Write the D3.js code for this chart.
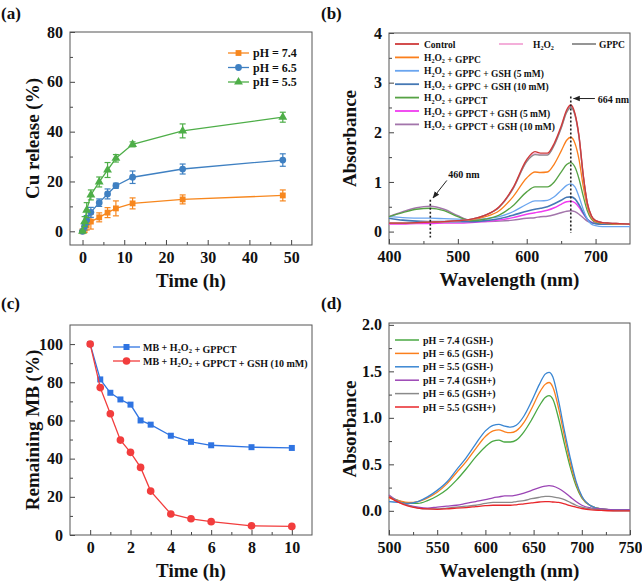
<!DOCTYPE html>
<meta charset="utf-8">
<title>Cu release / MB degradation</title>
<style>
body { margin: 0; background: #fff; }
svg text { font-family: "Liberation Serif", "Times New Roman", serif; font-weight: bold; fill: #111; }
</style>
<body>
<script src="https://d3js.org/d3.v7.min.js"></script>
<script>

// ---------- (a) Cu release ----------
var relTime = [0, 0.5, 1, 2, 4, 6, 8, 12, 24, 48];
var cu74 = [0, 1, 2.5, 3.9, 5.6, 7.5, 9.2, 11.2, 12.8, 14.4];
var cu74Err = [0.3, 1.5, 2, 3, 1.8, 2, 3, 2.2, 1.8, 2.2];
var cu65 = [0, 2, 4.5, 7.6, 11.5, 15, 18.3, 21.7, 25, 28.6];
var cu65Err = [0.3, 1.5, 1.8, 2, 1.5, 2, 1, 2.5, 2, 2.5];
var cu55 = [0, 3.9, 8.5, 14.6, 19.8, 24.6, 29.3, 34.9, 40.3, 45.8];
var cu55Err = [0.3, 2, 3, 2, 2, 3, 1.5, 1, 2.8, 2];
var phLabels = ["pH = 7.4", "pH = 6.5", "pH = 5.5"];

// ---------- (b) MB spectra with H2O2 / GSH ----------
var wlB = [400, 420, 440, 460, 480, 500, 520, 540, 560, 580, 600, 612, 620, 630, 640, 650, 658, 664, 670, 676, 682, 688, 694, 700, 710, 720, 735, 750];
var bControl = [0.17, 0.17, 0.18, 0.19, 0.2, 0.22, 0.25, 0.33, 0.5, 0.88, 1.45, 1.61, 1.58, 1.58, 1.78, 2.12, 2.45, 2.55, 2.38, 1.92, 1.15, 0.58, 0.32, 0.22, 0.18, 0.17, 0.16, 0.15];
var bH2O2 = [0.17, 0.17, 0.18, 0.19, 0.2, 0.22, 0.25, 0.33, 0.49, 0.86, 1.42, 1.57, 1.55, 1.55, 1.75, 2.09, 2.42, 2.52, 2.36, 1.9, 1.14, 0.57, 0.31, 0.22, 0.18, 0.17, 0.16, 0.15];
var bGPPC = [0.17, 0.17, 0.18, 0.19, 0.2, 0.22, 0.25, 0.33, 0.49, 0.86, 1.41, 1.55, 1.54, 1.54, 1.74, 2.08, 2.4, 2.5, 2.35, 1.9, 1.13, 0.57, 0.31, 0.22, 0.18, 0.17, 0.16, 0.15];
var bGPPCH = [0.17, 0.17, 0.18, 0.19, 0.2, 0.22, 0.24, 0.3, 0.42, 0.7, 1.08, 1.2, 1.19, 1.2, 1.36, 1.62, 1.84, 1.9, 1.78, 1.45, 0.92, 0.5, 0.28, 0.2, 0.17, 0.16, 0.15, 0.15];
var bGPPCGsh5 = [0.3, 0.28, 0.27, 0.27, 0.26, 0.25, 0.24, 0.26, 0.3, 0.4, 0.55, 0.62, 0.62, 0.63, 0.7, 0.83, 0.93, 0.96, 0.9, 0.7, 0.45, 0.25, 0.15, 0.12, 0.1, 0.1, 0.1, 0.1];
var bGPPCGsh10 = [0.27, 0.23, 0.21, 0.2, 0.2, 0.2, 0.2, 0.22, 0.26, 0.33, 0.41, 0.45, 0.47, 0.5, 0.56, 0.63, 0.69, 0.7, 0.66, 0.54, 0.38, 0.25, 0.18, 0.16, 0.15, 0.15, 0.15, 0.15];
var bGPPCT = [0.3, 0.38, 0.45, 0.47, 0.42, 0.3, 0.22, 0.25, 0.33, 0.52, 0.8, 0.9, 0.9, 0.9, 1.0, 1.2, 1.35, 1.39, 1.3, 1.06, 0.72, 0.42, 0.25, 0.19, 0.17, 0.16, 0.15, 0.15];
var bGPPCTGsh5 = [0.15, 0.15, 0.16, 0.16, 0.17, 0.17, 0.18, 0.2, 0.23, 0.28, 0.35, 0.38, 0.4, 0.43, 0.48, 0.55, 0.6, 0.61, 0.58, 0.49, 0.36, 0.25, 0.19, 0.17, 0.16, 0.15, 0.15, 0.15];
var bGPPCTGsh10 = [0.3, 0.4, 0.48, 0.51, 0.45, 0.32, 0.22, 0.2, 0.21, 0.23, 0.27, 0.28, 0.3, 0.31, 0.34, 0.38, 0.41, 0.42, 0.4, 0.35, 0.28, 0.21, 0.18, 0.16, 0.16, 0.15, 0.15, 0.15];
var bNames = ["Control", "H2O2", "GPPC", "H2O2 + GPPC", "H2O2 + GPPC + GSH (5 mM)", "H2O2 + GPPC + GSH (10 mM)",
              "H2O2 + GPPCT", "H2O2 + GPPCT + GSH (5 mM)", "H2O2 + GPPCT + GSH (10 mM)"];

// ---------- (c) MB degradation ----------
var degTime = [0, 0.5, 1, 1.5, 2, 2.5, 3, 4, 5, 6, 8, 10];
var mbGPPCT = [100, 81.5, 74.5, 71, 68.3, 60, 57.8, 52, 48.8, 47, 46, 45.6];
var mbGPPCTGsh = [100, 77.2, 63.5, 49.7, 43.3, 35.4, 23, 11, 8.5, 7, 4.8, 4.5];
var cNames = ["MB + H2O2 + GPPCT", "MB + H2O2 + GPPCT + GSH (10 mM)"];

// ---------- (d) spectra vs pH ----------
var wlD = [500, 510, 520, 530, 540, 550, 560, 570, 580, 590, 600, 608, 614, 620, 626, 632, 640, 648, 656, 662, 666, 670, 676, 682, 688, 694, 700, 710, 720, 735, 750];
var d74n = [0.15, 0.11, 0.08, 0.08, 0.11, 0.16, 0.23, 0.33, 0.45, 0.58, 0.69, 0.75, 0.76, 0.74, 0.74, 0.76, 0.85, 0.98, 1.13, 1.22, 1.24, 1.2, 0.99, 0.72, 0.47, 0.27, 0.14, 0.05, 0.02, 0.01, 0.01];
var d65n = [0.14, 0.11, 0.09, 0.1, 0.14, 0.2, 0.29, 0.41, 0.53, 0.67, 0.8, 0.86, 0.87, 0.85, 0.84, 0.86, 0.95, 1.1, 1.27, 1.36, 1.38, 1.33, 1.1, 0.8, 0.52, 0.3, 0.15, 0.05, 0.02, 0.01, 0.01];
var d55n = [0.1, 0.09, 0.08, 0.1, 0.15, 0.22, 0.31, 0.44, 0.57, 0.72, 0.86, 0.92, 0.93, 0.91, 0.9, 0.92, 1.02, 1.18, 1.36, 1.47, 1.49, 1.44, 1.18, 0.86, 0.57, 0.32, 0.16, 0.05, 0.02, 0.01, 0.01];
var d74p = [0.17, 0.1, 0.06, 0.04, 0.03, 0.04, 0.05, 0.06, 0.08, 0.1, 0.12, 0.14, 0.15, 0.16, 0.16, 0.17, 0.19, 0.22, 0.25, 0.265, 0.27, 0.265, 0.24, 0.2, 0.15, 0.1, 0.06, 0.03, 0.02, 0.01, 0.01];
var d65p = [0.16, 0.1, 0.06, 0.03, 0.02, 0.02, 0.03, 0.04, 0.05, 0.06, 0.08, 0.09, 0.09, 0.09, 0.09, 0.1, 0.11, 0.13, 0.145, 0.155, 0.155, 0.15, 0.14, 0.12, 0.09, 0.06, 0.04, 0.02, 0.01, 0.0, 0.0];
var d55p = [0.15, 0.09, 0.05, 0.03, 0.02, 0.015, 0.02, 0.03, 0.035, 0.045, 0.055, 0.06, 0.06, 0.06, 0.06, 0.065, 0.075, 0.085, 0.095, 0.1, 0.1, 0.095, 0.09, 0.075, 0.055, 0.04, 0.025, 0.01, 0.005, 0.0, 0.0];
var dNames = ["pH = 7.4 (GSH-)", "pH = 6.5 (GSH-)", "pH = 5.5 (GSH-)", "pH = 7.4 (GSH+)", "pH = 6.5 (GSH+)", "pH = 5.5 (GSH+)"];

var svg = d3.select("body").append("svg")
    .attr("width", 642)
    .attr("height", 583);

// write "H2O2" with real subscripts
function richText(sel, str) {
  var parts = str.split(/(H2O2)/);
  parts.forEach(function(p) {
    if (p === "H2O2") {
      sel.append("tspan").text("H");
      sel.append("tspan").attr("dy", 2.5).attr("font-size", "0.65em").text("2");
      sel.append("tspan").attr("dy", -2.5).text("O");
      sel.append("tspan").attr("dy", 2.5).attr("font-size", "0.65em").text("2");
      sel.append("tspan").attr("dy", -2.5).text("");
    } else if (p) {
      sel.append("tspan").text(p);
    }
  });
}

// one framed panel with inward ticks
function panel(o) {
  var g = svg.append("g");
  var x = d3.scaleLinear().domain(o.xd).range([o.left, o.right]);
  var y = d3.scaleLinear().domain(o.yd).range([o.bottom, o.top]);

  g.append("g").attr("transform", "translate(0," + o.bottom + ")")
      .call(d3.axisBottom(x).tickValues(o.xMinor).tickSize(-3).tickFormat(""));
  g.append("g").attr("transform", "translate(" + o.left + ",0)")
      .call(d3.axisLeft(y).tickValues(o.yMinor).tickSize(-3).tickFormat(""));
  var ax = g.append("g").attr("transform", "translate(0," + o.bottom + ")")
      .call(d3.axisBottom(x).tickValues(o.xTicks).tickSize(-5).tickPadding(7).tickFormat(o.xFmt || d3.format("d")));
  var ay = g.append("g").attr("transform", "translate(" + o.left + ",0)")
      .call(d3.axisLeft(y).tickValues(o.yTicks).tickSize(-5).tickPadding(7).tickFormat(o.yFmt || d3.format("d")));
  g.selectAll(".domain").remove();
  g.selectAll(".tick line").attr("stroke", "#444");
  ax.selectAll("text").attr("font-size", 16).attr("font-family", null).attr("fill", "#111");
  ay.selectAll("text").attr("font-size", 16).attr("font-family", null).attr("fill", "#111");

  g.append("rect")
      .attr("x", o.left).attr("y", o.top)
      .attr("width", o.right - o.left).attr("height", o.bottom - o.top)
      .attr("fill", "none").attr("stroke", "#555").attr("stroke-width", 1);

  g.append("text")
      .attr("x", (o.left + o.right) / 2).attr("y", o.bottom + 42)
      .attr("text-anchor", "middle").attr("font-size", 19)
      .text(o.xLabel);
  g.append("text")
      .attr("transform", "translate(" + o.yLabelX + "," + (o.top + o.bottom) / 2 + ") rotate(-90)")
      .attr("text-anchor", "middle").attr("font-size", 19)
      .text(o.yLabel);
  g.append("text")
      .attr("x", o.tagX).attr("y", o.tagY)
      .attr("font-size", 17).text(o.tag);
  return {g: g, x: x, y: y};
}

// ================= (a) =================
var pa = panel({
  left: 70, right: 312, top: 32, bottom: 245,
  xd: [-3, 55], yd: [-5.5, 80],
  xTicks: [0, 10, 20, 30, 40, 50], xMinor: [5, 15, 25, 35, 45],
  yTicks: [0, 20, 40, 60, 80], yMinor: [10, 30, 50, 70],
  xLabel: "Time (h)", yLabel: "Cu release (%)", yLabelX: 39,
  tag: "(a)", tagX: 1, tagY: 19
});

var aSeries = [
  {vals: cu74, err: cu74Err, color: "#f7871e", shape: d3.symbolSquare, size: 34},
  {vals: cu65, err: cu65Err, color: "#3f80c2", shape: d3.symbolCircle, size: 36},
  {vals: cu55, err: cu55Err, color: "#4eae48", shape: d3.symbolTriangle, size: 34}
];
var lineA = d3.line().x(function(d) { return pa.x(d[0]); }).y(function(d) { return pa.y(d[1]); });

aSeries.forEach(function(s) {
  var pts = relTime.map(function(t, i) { return [t, s.vals[i], s.err[i]]; });
  var gs = pa.g.append("g");
  gs.append("path").datum(pts).attr("d", lineA)
      .attr("fill", "none").attr("stroke", s.color).attr("stroke-width", 1.3);
  var eb = gs.selectAll(".eb").data(pts).enter().append("g").attr("stroke", s.color).attr("stroke-width", 1.2);
  eb.append("line")
      .attr("x1", function(d) { return pa.x(d[0]); }).attr("x2", function(d) { return pa.x(d[0]); })
      .attr("y1", function(d) { return pa.y(d[1] - d[2]); }).attr("y2", function(d) { return pa.y(d[1] + d[2]); });
  [-1, 1].forEach(function(sg) {
    eb.append("line")
        .attr("x1", function(d) { return pa.x(d[0]) - 3; }).attr("x2", function(d) { return pa.x(d[0]) + 3; })
        .attr("y1", function(d) { return pa.y(d[1] + sg * d[2]); }).attr("y2", function(d) { return pa.y(d[1] + sg * d[2]); });
  });
  gs.selectAll(".mk").data(pts).enter().append("path")
      .attr("d", d3.symbol().type(s.shape).size(s.size))
      .attr("transform", function(d) { return "translate(" + pa.x(d[0]) + "," + pa.y(d[1]) + ")"; })
      .attr("fill", s.color);
});

aSeries.forEach(function(s, i) {
  var yy = 53 + i * 14.5;
  pa.g.append("line").attr("x1", 228).attr("x2", 249).attr("y1", yy).attr("y2", yy)
      .attr("stroke", s.color).attr("stroke-width", 1.3);
  pa.g.append("path").attr("d", d3.symbol().type(s.shape).size(s.size))
      .attr("transform", "translate(238.5," + yy + ")").attr("fill", s.color);
  pa.g.append("text").attr("x", 253).attr("y", yy + 4).attr("font-size", 12).text(phLabels[i]);
});

// ================= (b) =================
var pb = panel({
  left: 389, right: 630, top: 33, bottom: 244,
  xd: [400, 750], yd: [-0.25, 4],
  xTicks: [400, 500, 600, 700], xMinor: [450, 550, 650],
  yTicks: [0, 1, 2, 3, 4], yMinor: [0.5, 1.5, 2.5, 3.5],
  xLabel: "Wavelength (nm)", yLabel: "Absorbance", yLabelX: 356,
  tag: "(b)", tagX: 321, tagY: 19
});

var bSeries = [bControl, bH2O2, bGPPC, bGPPCH, bGPPCGsh5, bGPPCGsh10, bGPPCT, bGPPCTGsh5, bGPPCTGsh10];
var bColors = ["#cf3a3a", "#f3a6d6", "#8a8a8a", "#fb7f1c", "#6aa5ef", "#4578b4", "#56a244", "#f03cf0", "#a375ab"];
var bWidths = [1.4, 1.4, 1.4, 1.3, 1.3, 1.6, 1.3, 1.4, 1.4];
var lineB = d3.line().curve(d3.curveMonotoneX)
    .x(function(d) { return pb.x(d[0]); }).y(function(d) { return pb.y(d[1]); });

var bOrder = [8, 7, 5, 4, 6, 3, 1, 2, 0];
bOrder.forEach(function(k) {
  var pts = wlB.map(function(w, i) { return [w, bSeries[k][i]]; });
  pb.g.append("path").datum(pts).attr("d", lineB)
      .attr("fill", "none").attr("stroke", bColors[k]).attr("stroke-width", bWidths[k]);
});

// dotted markers and annotations
pb.g.append("line").attr("x1", pb.x(460)).attr("x2", pb.x(460)).attr("y1", pb.y(0.64)).attr("y2", pb.y(-0.12))
    .attr("stroke", "#222").attr("stroke-width", 1.6).attr("stroke-dasharray", "2,2");
pb.g.append("line").attr("x1", pb.x(664)).attr("x2", pb.x(664)).attr("y1", pb.y(2.72)).attr("y2", pb.y(-0.03))
    .attr("stroke", "#222").attr("stroke-width", 1.6).attr("stroke-dasharray", "2,2");

svg.append("defs").append("marker")
    .attr("id", "arr").attr("viewBox", "0 0 10 10").attr("refX", 9).attr("refY", 5)
    .attr("markerWidth", 7).attr("markerHeight", 7).attr("orient", "auto")
  .append("path").attr("d", "M0,1 L10,5 L0,9 Z").attr("fill", "#222");

pb.g.append("line").attr("x1", pb.x(484)).attr("y1", pb.y(1.03)).attr("x2", pb.x(464)).attr("y2", pb.y(0.68))
    .attr("stroke", "#222").attr("stroke-width", 1).attr("marker-end", "url(#arr)");
pb.g.append("text").attr("x", pb.x(486)).attr("y", pb.y(1.08)).attr("font-size", 10).text("460 nm");
pb.g.append("line").attr("x1", pb.x(699)).attr("y1", pb.y(2.68)).attr("x2", pb.x(668)).attr("y2", pb.y(2.68))
    .attr("stroke", "#222").attr("stroke-width", 1).attr("marker-end", "url(#arr)");
pb.g.append("text").attr("x", pb.x(703)).attr("y", pb.y(2.6)).attr("font-size", 10).text("664 nm");

// legend (b)
var bLeg = [
  {k: 0, lx: 395, tx: 424, y: 44}, {k: 1, lx: 499, tx: 533, y: 44}, {k: 2, lx: 572, tx: 599, y: 44}
];
for (var r = 3; r < 9; r++) bLeg.push({k: r, lx: 395, tx: 424, y: 44 + (r - 2) * 13.4});
bLeg.forEach(function(l) {
  pb.g.append("line").attr("x1", l.lx).attr("x2", l.lx + 24).attr("y1", l.y).attr("y2", l.y)
      .attr("stroke", bColors[l.k]).attr("stroke-width", 1.8);
  var t = pb.g.append("text").attr("x", l.tx).attr("y", l.y + 3.5).attr("font-size", 9.5);
  richText(t, bNames[l.k]);
});

// ================= (c) =================
var pc = panel({
  left: 70, right: 312, top: 325, bottom: 535,
  xd: [-1, 11], yd: [0, 110],
  xTicks: [0, 2, 4, 6, 8, 10], xMinor: [1, 3, 5, 7, 9],
  yTicks: [0, 20, 40, 60, 80, 100], yMinor: [10, 30, 50, 70, 90],
  xLabel: "Time (h)", yLabel: "Remaining MB (%)", yLabelX: 39,
  tag: "(c)", tagX: 1, tagY: 309
});

var cSeries = [
  {vals: mbGPPCT, color: "#2f74e2", shape: d3.symbolSquare, size: 36},
  {vals: mbGPPCTGsh, color: "#f23d3d", shape: d3.symbolCircle, size: 46}
];
var lineC = d3.line().x(function(d) { return pc.x(d[0]); }).y(function(d) { return pc.y(d[1]); });
cSeries.forEach(function(s) {
  var pts = degTime.map(function(t, i) { return [t, s.vals[i]]; });
  pc.g.append("path").datum(pts).attr("d", lineC)
      .attr("fill", "none").attr("stroke", s.color).attr("stroke-width", 1.3);
  pc.g.selectAll(null).data(pts).enter().append("path")
      .attr("d", d3.symbol().type(s.shape).size(s.size))
      .attr("transform", function(d) { return "translate(" + pc.x(d[0]) + "," + pc.y(d[1]) + ")"; })
      .attr("fill", s.color);
});
cSeries.forEach(function(s, i) {
  var yy = 347 + i * 14;
  pc.g.append("line").attr("x1", 113).attr("x2", 140).attr("y1", yy).attr("y2", yy)
      .attr("stroke", s.color).attr("stroke-width", 1.3);
  pc.g.append("path").attr("d", d3.symbol().type(s.shape).size(s.size))
      .attr("transform", "translate(126.5," + yy + ")").attr("fill", s.color);
  var t = pc.g.append("text").attr("x", 143).attr("y", yy + 3.5).attr("font-size", 10);
  richText(t, cNames[i]);
});

// ================= (d) =================
var pd = panel({
  left: 389, right: 630, top: 323, bottom: 535,
  xd: [500, 750], yd: [-0.26, 2.02],
  xTicks: [500, 550, 600, 650, 700, 750], xMinor: [525, 575, 625, 675, 725],
  yTicks: [0, 0.5, 1, 1.5, 2], yMinor: [0.25, 0.75, 1.25, 1.75],
  yFmt: d3.format(".1f"),
  xLabel: "Wavelength (nm)", yLabel: "Absorbance", yLabelX: 356,
  tag: "(d)", tagX: 321, tagY: 309
});

var dSeries = [d74n, d65n, d55n, d74p, d65p, d55p];
var dColors = ["#4aa843", "#fb7f1c", "#3a86d2", "#9b45b5", "#8a8a8a", "#e8262a"];
var lineD = d3.line().curve(d3.curveMonotoneX)
    .x(function(d) { return pd.x(d[0]); }).y(function(d) { return pd.y(d[1]); });
dSeries.forEach(function(s, k) {
  var pts = wlD.map(function(w, i) { return [w, s[i]]; });
  pd.g.append("path").datum(pts).attr("d", lineD)
      .attr("fill", "none").attr("stroke", dColors[k]).attr("stroke-width", 1.3);
});
dNames.forEach(function(n, i) {
  var yy = 340 + i * 13.4;
  pd.g.append("line").attr("x1", 395).attr("x2", 419).attr("y1", yy).attr("y2", yy)
      .attr("stroke", dColors[i]).attr("stroke-width", 1.5);
  pd.g.append("text").attr("x", 423).attr("y", yy + 3.5).attr("font-size", 10).text(n);
});

</script>
